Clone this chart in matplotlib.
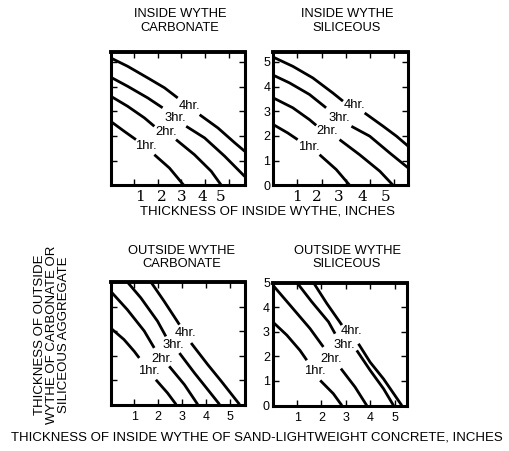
import numpy as np
import matplotlib
matplotlib.use("Agg")
import matplotlib.pyplot as plt

plt.rcParams['font.family'] = ['Liberation Sans', 'DejaVu Sans']

nan = np.nan

# curves: hours -> (x, y); nan marks the gap where the label sits
inside_carbonate = {
    "1hr.": ([0, 0.57, 1.07, nan, 1.85, 2.49, 3.1], [2.59, 2.19, 1.85, nan, 1.24, 0.7, 0.0]),
    "2hr.": ([0, 0.72, 1.43, 1.85, nan, 2.77, 3.55, 4.26, 4.69], [3.61, 3.2, 2.73, 2.39, nan, 1.85, 1.24, 0.57, 0.0]),
    "3hr.": ([0, 0.72, 1.57, 2.2, nan, 3.2, 3.98, 4.83, 5.68], [4.38, 4.01, 3.54, 3.14, nan, 2.39, 1.92, 1.18, 0.36]),
    "4hr.": ([0, 0.72, 1.57, 2.28, 2.84, nan, 3.77, 4.55, 5.26, 5.68], [5.16, 4.82, 4.35, 3.95, 3.54, nan, 2.86, 2.32, 1.72, 1.38]),
}
inside_carbonate_lbl = {"1hr.": (1.5, 1.58), "2hr.": (2.35, 2.17), "3hr.": (2.75, 2.72), "4hr.": (3.32, 3.22)}

inside_siliceous = {
    "1hr.": ([0, 0.6, 1.01, nan, 1.92, 2.61, 3.17], [2.46, 2.12, 1.85, nan, 1.24, 0.64, 0.0]),
    "2hr.": ([0, 0.81, 1.5, 1.78, nan, 2.75, 3.58, 4.42, 4.97], [3.54, 3.14, 2.66, 2.43, nan, 1.85, 1.24, 0.57, 0.0]),
    "3hr.": ([0, 0.67, 1.5, 2.19, nan, 3.24, 4.0, 4.83, 5.6], [4.46, 4.15, 3.68, 3.14, nan, 2.39, 1.99, 1.31, 0.7]),
    "4hr.": ([0, 0.81, 1.64, 2.47, 2.89, nan, 3.79, 4.56, 5.11, 5.6], [5.19, 4.82, 4.35, 3.74, 3.41, nan, 2.93, 2.39, 1.99, 1.58]),
}
inside_siliceous_lbl = {"1hr.": (1.48, 1.55), "2hr.": (2.24, 2.2), "3hr.": (2.72, 2.72), "4hr.": (3.36, 3.24)}

outside_carbonate = {
    "1hr.": ([0, 0.56, 0.99, 1.2, nan, 1.9, 2.39, 2.75], [3.12, 2.65, 2.17, 1.9, nan, 1.01, 0.47, 0.0]),
    "2hr.": ([0, 0.7, 1.41, 1.83, nan, 2.46, 3.1, 3.66], [4.62, 3.87, 3.0, 2.31, nan, 1.56, 0.81, 0.0]),
    "3hr.": ([0.7, 1.27, 1.97, 2.32, nan, 2.89, 3.52, 4.08, 4.58], [5.0, 4.35, 3.4, 2.78, nan, 2.1, 1.29, 0.61, 0.0]),
    "4hr.": ([1.69, 2.25, 2.89, nan, 3.38, 4.08, 4.65, 5.42], [5.0, 4.21, 3.26, nan, 2.51, 1.63, 0.95, 0.0]),
}
outside_carbonate_lbl = {"1hr.": (1.6, 1.38), "2hr.": (2.18, 1.86), "3hr.": (2.64, 2.42), "4hr.": (3.15, 2.92)}

outside_siliceous = {
    "1hr.": ([0, 0.58, 1.12, 1.4, nan, 1.95, 2.49, 2.84], [3.4, 2.86, 2.24, 1.84, nan, 1.02, 0.48, 0.0]),
    "2hr.": ([0, 0.71, 1.53, 2.08, nan, 2.8, 3.38, 3.86], [4.9, 4.08, 3.13, 2.38, nan, 1.5, 0.75, 0.0]),
    "3hr.": ([0.99, 1.6, 2.29, 2.56, nan, 3.45, 4.0, 4.55, 4.96], [5.0, 4.22, 3.4, 2.92, nan, 2.24, 1.43, 0.68, 0.0]),
    "4hr.": ([1.67, 2.22, 2.84, nan, 3.52, 4.0, 4.55, 5.3], [5.0, 4.15, 3.27, nan, 2.51, 1.76, 1.08, 0.0]),
}
outside_siliceous_lbl = {"1hr.": (1.72, 1.4), "2hr.": (2.4, 1.9), "3hr.": (2.95, 2.46), "4hr.": (3.22, 3.02)}

titles = ["INSIDE WYTHE\nCARBONATE", "INSIDE WYTHE\nSILICEOUS",
          "OUTSIDE WYTHE\nCARBONATE", "OUTSIDE WYTHE\nSILICEOUS"]
title_xy = [(180, 21), (347, 21), (182, 257.5), (347, 257.5)]
yticks = [0, 1, 2, 3, 4, 5]
xticks = [0, 1, 2, 3, 4, 5]
top_digits = ["1", "2", "3", "4", "5"]
top_digit_x = [[1.25, 2.18, 3.03, 3.89, 4.65], [0.97, 1.81, 2.71, 3.68, 4.65]]
bottom_xlabels = ["1", "2", "3", "4", "5"]

W, H = 509, 451
fig = plt.figure(figsize=(W / 100, H / 100), dpi=100)


def box(x0, y0, x1, y1):
    # pixel box (top-left origin) -> figure fraction rect
    return [x0 / W, 1 - y1 / H, (x1 - x0) / W, (y1 - y0) / H]


panels = [
    (box(110.7, 52, 244.7, 185.3), inside_carbonate, inside_carbonate_lbl, (5.68, 5.4)),
    (box(273.3, 52, 408.3, 185.3), inside_siliceous, inside_siliceous_lbl, (5.6, 5.4)),
    (box(110.7, 282, 245.3, 404.5), outside_carbonate, outside_carbonate_lbl, (5.66, 5.0)),
    (box(272.7, 282.5, 406.7, 405.5), outside_siliceous, outside_siliceous_lbl, (5.5, 5.0)),
]

axes = []
for i, (rect, curves, lbls, (xm, ym)) in enumerate(panels):
    ax = fig.add_axes(rect)
    for k, (xs, ys) in curves.items():
        ax.plot(xs, ys, color="black", lw=2.0, solid_capstyle="butt", solid_joinstyle="round")
        lx, ly = lbls[k]
        ax.text(lx, ly, k, fontsize=9.4, ha="center", va="center")
    ax.set_xlim(0, xm)
    ax.set_ylim(0, ym)
    ax.set_yticks(yticks)
    ax.set_xticks(xticks)
    ax.tick_params(direction="in", length=4, width=1, top=True, right=True,
                   labelsize=9, pad=2)
    for s in ax.spines.values():
        s.set_linewidth(2.2)
    ax.spines["top"].set_linewidth(2.8)
    tx, ty = title_xy[i]
    fig.text(tx / W, 1 - ty / H, titles[i], fontsize=9.3, ha="center", va="center",
             linespacing=1.15)
    axes.append(ax)

# top row: no x tick labels, odd serif digits instead
for ax, xs in zip(axes[:2], top_digit_x):
    ax.set_xticklabels([])
    for d, x in zip(top_digits, xs):
        ax.text(x, -0.2, d, fontsize=11, family="DejaVu Serif", ha="center", va="top")
axes[0].set_yticklabels([])

# bottom row
axes[2].set_yticklabels([])
for ax in axes[2:]:
    ax.set_xticks([1, 2, 3, 4, 5])
    ax.set_xticklabels(bottom_xlabels)
    ax.tick_params(axis="x", pad=5)

fig.text(268 / W, 1 - 212 / H, "THICKNESS OF INSIDE WYTHE, INCHES", fontsize=9.5,
         ha="center", va="center")
fig.text(257 / W, 1 - 437 / H,
         "THICKNESS OF INSIDE WYTHE OF SAND-LIGHTWEIGHT CONCRETE, INCHES",
         fontsize=9.5, ha="center", va="center")
fig.text(52 / W, 1 - 335 / H,
         "THICKNESS OF OUTSIDE\nWYTHE OF CARBONATE OR\nSILICEOUS AGGREGATE",
         fontsize=9.5, ha="center", va="center", rotation=90, linespacing=1.0)

fig.savefig("out.png", dpi=100)
